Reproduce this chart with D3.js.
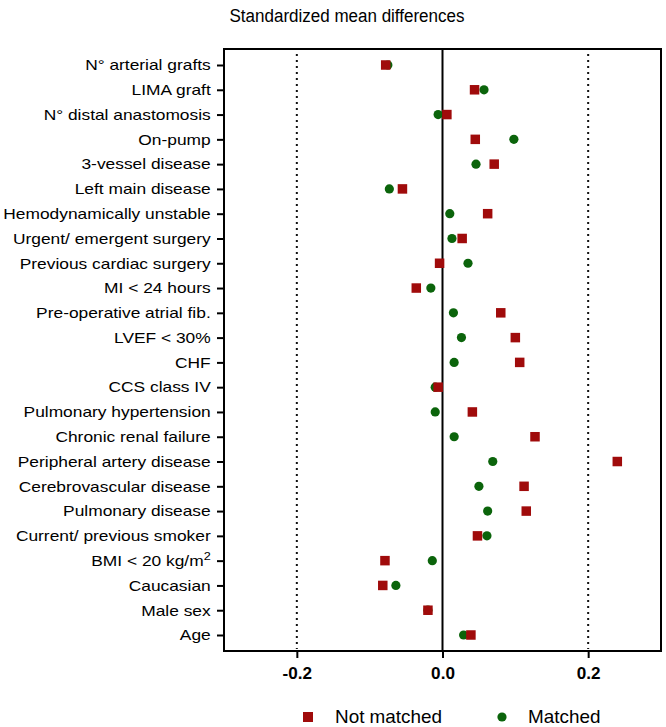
<!DOCTYPE html>
<html>
<head>
<meta charset="utf-8">
<script src="https://cdn.jsdelivr.net/npm/d3@7"></script>
<style>
  body { margin: 0; background: #fff; }
  svg { font-family: "Liberation Sans", Arial, sans-serif; }
</style>
</head>
<body>
<svg id="svg" width="666" height="727"></svg>
<script>
// row labels, top to bottom
var variables = [
  "N° arterial grafts", "LIMA graft", "N° distal anastomosis", "On-pump",
  "3-vessel disease", "Left main disease", "Hemodynamically unstable",
  "Urgent/ emergent surgery", "Previous cardiac surgery", "MI < 24 hours",
  "Pre-operative atrial fib.", "LVEF < 30%", "CHF", "CCS class IV",
  "Pulmonary hypertension", "Chronic renal failure", "Peripheral artery disease",
  "Cerebrovascular disease", "Pulmonary disease", "Current/ previous smoker",
  "BMI < 20 kg/m2", "Caucasian", "Male sex", "Age"
];
var notMatched = [-0.078, 0.044, 0.006, 0.045, 0.071, -0.055, 0.062, 0.027, -0.004, -0.036,
  0.080, 0.100, 0.106, -0.006, 0.041, 0.127, 0.240, 0.112, 0.115, 0.048,
  -0.079, -0.082, -0.020, 0.039];
var matched = [-0.075, 0.057, -0.006, 0.098, 0.046, -0.073, 0.010, 0.013, 0.035, -0.016,
  0.015, 0.026, 0.016, -0.010, -0.010, 0.016, 0.069, 0.050, 0.062, 0.061,
  -0.014, -0.064, -0.020, 0.029];
var xTicks = [-0.2, 0.0, 0.2];
var refLines = [-0.2, 0.2];

var red = "#a00b0b", green = "#0b640b";

var svg = d3.select("#svg");
var plotL = 224, plotR = 661, plotT = 49, plotB = 651;
var stretch = 1.157; // labels in the original are a bit wide

var x = d3.scaleLinear().domain([-0.3, 0.3]).range([plotL, plotR]);
var y = d3.scalePoint().domain(variables).range([plotT + 16, plotB - 16]);

// title
svg.append("text")
  .attr("x", 347).attr("y", 22)
  .attr("text-anchor", "middle")
  .attr("font-size", 18)
  .attr("transform", "translate(347,0) scale(0.945,1) translate(-347,0)")
  .text("Standardized mean differences");

// dotted reference lines
svg.selectAll(".ref").data(refLines).enter().append("line")
  .attr("x1", function(d){ return x(d); })
  .attr("x2", function(d){ return x(d); })
  .attr("y1", plotT + 5).attr("y2", plotB - 2)
  .attr("stroke", "#111")
  .attr("stroke-width", 2)
  .attr("stroke-dasharray", "2,4");

// zero line
svg.append("line")
  .attr("x1", x(0)).attr("x2", x(0))
  .attr("y1", plotT).attr("y2", plotB)
  .attr("stroke", "#000").attr("stroke-width", 2);

// frame
svg.append("rect")
  .attr("x", plotL).attr("y", plotT)
  .attr("width", plotR - plotL).attr("height", plotB - plotT)
  .attr("fill", "none").attr("stroke", "#000").attr("stroke-width", 2);

// y axis
var yAxis = svg.append("g")
  .attr("transform", "translate(" + plotL + ",0)")
  .call(d3.axisLeft(y).tickSize(7).tickPadding(5));
yAxis.select(".domain").remove();
yAxis.selectAll(".tick line").attr("stroke", "#000").attr("stroke-width", 2);
yAxis.selectAll(".tick text")
  .attr("font-size", 15)
  .attr("font-family", "Liberation Sans, Arial, sans-serif")
  .attr("fill", "#000")
  .attr("x", -13.3 / stretch)
  .attr("transform", "scale(" + stretch + ",1)")
  .each(function(d){
    if (d === "BMI < 20 kg/m2") {
      var t = d3.select(this).text("BMI < 20 kg/m");
      t.append("tspan").attr("dy", -6).attr("font-size", 11).text("2");
    }
  });

// x axis
var xAxis = svg.append("g")
  .attr("transform", "translate(0," + plotB + ")")
  .call(d3.axisBottom(x).tickValues(xTicks).tickSize(7).tickPadding(10)
    .tickFormat(d3.format(".1f")));
xAxis.select(".domain").remove();
xAxis.selectAll(".tick line").attr("stroke", "#000").attr("stroke-width", 2);
xAxis.selectAll(".tick text")
  .attr("font-size", 16)
  .attr("font-weight", "bold")
  .attr("font-family", "Liberation Sans, Arial, sans-serif")
  .attr("fill", "#000")
  .attr("transform", "scale(1.07,1)")
  .text(function(d){ return d3.format(".1f")(d).replace("−", "-"); });

// matched points (circles)
svg.selectAll(".matched").data(matched).enter().append("circle")
  .attr("cx", function(d){ return x(d); })
  .attr("cy", function(d, i){ return y(variables[i]); })
  .attr("r", 4.6)
  .attr("fill", green);

// not matched (squares), drawn on top
var s = 9.5;
svg.selectAll(".notmatched").data(notMatched).enter().append("rect")
  .attr("x", function(d){ return x(d) - s / 2; })
  .attr("y", function(d, i){ return y(variables[i]) - s / 2; })
  .attr("width", s).attr("height", s)
  .attr("fill", red);

// legend
var legend = svg.append("g");
legend.append("rect")
  .attr("x", 303).attr("y", 712).attr("width", 10).attr("height", 10)
  .attr("fill", red);
legend.append("text")
  .attr("x", 335).attr("y", 723)
  .attr("font-size", 18)
  .attr("transform", "translate(335,0) scale(1.05,1) translate(-335,0)")
  .text("Not matched");
legend.append("circle")
  .attr("cx", 502).attr("cy", 717).attr("r", 4.6)
  .attr("fill", green);
legend.append("text")
  .attr("x", 528).attr("y", 723)
  .attr("font-size", 18)
  .attr("transform", "translate(528,0) scale(1.05,1) translate(-528,0)")
  .text("Matched");
</script>
</body>
</html>
